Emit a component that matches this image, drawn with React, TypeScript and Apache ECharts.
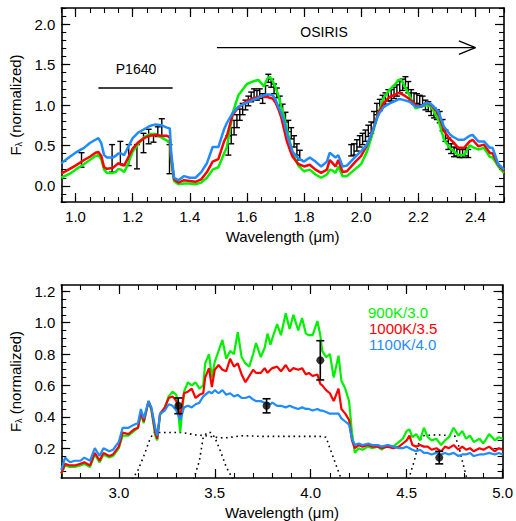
import React, { useEffect, useRef } from 'react';
import * as echarts from 'echarts';

// ---------- Top panel (0.95 - 2.5 micron) ----------
const topWl = [0.95,0.98,1.00,1.03,1.05,1.07,1.08,1.09,1.10,1.11,
  1.13,1.14,1.15,1.16,1.17,1.18,1.20,1.22,1.24,1.26,
  1.28,1.30,1.32,1.33,1.335,1.345,1.36,1.38,1.40,1.42,
  1.44,1.46,1.48,1.50,1.52,1.53,1.55,1.57,1.60,1.62,
  1.64,1.65,1.66,1.67,1.68,1.69,1.70,1.71,1.72,1.73,
  1.74,1.75,1.76,1.78,1.80,1.82,1.84,1.86,1.88,1.89,
  1.90,1.91,1.92,1.935,1.95,1.98,2.00,2.02,2.04,2.06,
  2.08,2.10,2.12,2.13,2.14,2.15,2.17,2.19,2.21,2.23,
  2.245,2.27,2.29,2.31,2.32,2.34,2.36,2.38,2.39,2.41,
  2.43,2.45,2.46,2.48,2.50];
const topGreen = [0.10,0.15,0.20,0.27,0.32,0.37,0.38,0.33,0.20,0.16,
  0.16,0.17,0.21,0.20,0.17,0.24,0.42,0.52,0.60,0.64,
  0.64,0.60,0.56,0.53,0.30,0.06,0.02,0.03,0.03,0.02,
  0.04,0.10,0.20,0.23,0.40,0.48,0.90,1.12,1.26,1.29,
  1.31,1.27,1.23,1.32,1.35,1.30,1.22,1.12,0.98,0.85,
  0.70,0.55,0.40,0.25,0.18,0.20,0.14,0.10,0.14,0.20,
  0.19,0.16,0.24,0.12,0.12,0.21,0.27,0.42,0.65,0.90,
  1.10,1.19,1.26,1.31,1.31,1.25,1.11,0.96,0.98,1.00,
  0.98,0.82,0.57,0.47,0.44,0.38,0.38,0.50,0.48,0.45,
  0.47,0.36,0.35,0.24,0.16];
const topRed = [0.15,0.21,0.25,0.32,0.36,0.41,0.42,0.37,0.23,0.21,
  0.22,0.25,0.28,0.26,0.25,0.32,0.46,0.54,0.59,0.62,
  0.63,0.62,0.62,0.60,0.35,0.08,0.04,0.07,0.06,0.05,
  0.08,0.17,0.30,0.33,0.55,0.62,0.88,0.97,1.05,1.08,
  1.10,1.11,1.10,1.10,1.09,1.08,1.03,0.95,0.85,0.70,
  0.55,0.45,0.36,0.27,0.24,0.26,0.20,0.16,0.20,0.32,
  0.28,0.24,0.32,0.17,0.18,0.30,0.37,0.50,0.68,0.90,
  1.03,1.10,1.13,1.15,1.14,1.12,1.07,1.00,0.98,1.03,
  1.00,0.90,0.68,0.58,0.55,0.47,0.47,0.55,0.57,0.49,
  0.51,0.41,0.40,0.26,0.18];
const topBlue = [0.28,0.36,0.41,0.47,0.53,0.57,0.59,0.53,0.38,0.35,
  0.35,0.37,0.40,0.40,0.38,0.45,0.59,0.66,0.70,0.74,
  0.76,0.75,0.72,0.71,0.40,0.10,0.07,0.12,0.10,0.10,
  0.17,0.28,0.48,0.48,0.70,0.78,0.90,0.98,1.03,1.06,
  1.09,1.11,1.12,1.13,1.13,1.12,1.07,0.98,0.90,0.80,
  0.65,0.53,0.42,0.34,0.30,0.35,0.30,0.24,0.30,0.41,
  0.38,0.35,0.38,0.24,0.25,0.36,0.43,0.51,0.68,0.88,
  0.98,1.02,1.05,1.07,1.07,1.06,1.04,0.98,0.98,1.03,
  1.01,0.92,0.73,0.64,0.61,0.57,0.57,0.62,0.63,0.55,
  0.55,0.47,0.47,0.27,0.20];

// observed spectrum (P1640 + OSIRIS)
const obsWl = [1.021,1.128,1.157,1.186,1.215,1.238,1.256,1.273,1.288,1.302,1.329,
  1.535,1.545,1.555,1.565,1.575,1.585,1.595,1.605,1.615,1.625,1.635,1.645,1.655,1.665,1.675,1.685,1.695,1.705,1.715,1.725,1.735,1.745,1.755,1.765,1.775,1.785,
  1.965,1.975,1.985,1.995,2.005,2.015,2.025,2.035,2.045,2.055,2.065,2.075,2.085,2.095,2.105,2.115,2.125,2.135,2.145,2.155,2.165,2.175,2.185,2.195,2.205,2.215,2.225,2.235,2.245,2.255,2.265,2.275,2.285,2.295,2.305,2.315,2.325,2.335,2.345,2.355,2.365,2.375];
const obsFlux = [0.32,0.34,0.41,0.38,0.36,0.53,0.61,0.59,0.67,0.72,0.33,
  0.50,0.62,0.72,0.80,0.88,0.95,1.00,1.05,1.10,1.14,1.12,1.14,1.08,1.18,1.33,1.27,1.20,1.15,1.05,0.95,0.85,0.74,0.65,0.55,0.45,0.38,
  0.44,0.45,0.50,0.55,0.58,0.62,0.68,0.72,0.85,0.95,1.00,1.05,1.08,1.12,1.12,1.15,1.18,1.22,1.25,1.28,1.22,1.12,1.08,1.08,1.06,1.05,1.00,0.98,0.93,0.90,0.88,0.85,0.75,0.62,0.52,0.46,0.42,0.42,0.40,0.40,0.42,0.40];
const obsErr = [0.09,0.17,0.14,0.13,0.15,0.12,0.09,0.05,0.06,0.11,0.18,
  0.12,0.10,0.09,0.08,0.07,0.07,0.06,0.06,0.06,0.06,0.06,0.06,0.06,0.06,0.05,0.05,0.06,0.06,0.06,0.06,0.06,0.07,0.07,0.07,0.07,0.06,
  0.07,0.07,0.07,0.07,0.07,0.07,0.07,0.07,0.07,0.07,0.07,0.07,0.07,0.07,0.07,0.07,0.07,0.07,0.07,0.07,0.07,0.07,0.07,0.06,0.06,0.06,0.06,0.06,0.06,0.06,0.06,0.07,0.07,0.07,0.07,0.06,0.06,0.05,0.05,0.05,0.05,0.05];

// ---------- Bottom panel (2.7 - 5.0 micron) ----------
const botWl = [2.70,2.72,2.745,2.77,2.80,2.82,2.85,2.875,2.90,2.92,
  2.95,2.97,3.00,3.02,3.05,3.08,3.10,3.115,3.13,3.155,
  3.17,3.19,3.20,3.215,3.24,3.26,3.28,3.30,3.32,3.34,
  3.36,3.38,3.40,3.42,3.44,
  3.45,3.47,3.485,3.50,3.52,3.54,3.56,3.58,3.60,3.62,
  3.64,3.66,3.68,3.70,3.715,3.74,3.76,3.775,3.79,3.80,
  3.825,3.845,3.87,3.89,3.91,3.935,3.955,3.975,3.99,4.01,
  4.035,4.05,4.06,4.08,4.10,4.12,4.145,4.16,4.18,4.20,
  4.215,
  4.23,4.25,4.27,4.30,4.32,4.35,4.37,4.40,4.43,4.46,
  4.48,4.50,4.515,4.53,4.55,4.57,4.59,4.61,4.63,4.655,
  4.68,4.70,4.72,4.745,4.77,4.79,4.81,4.83,4.85,4.88,
  4.90,4.93,4.96,4.98,5.00];
const botGreen = [0.04,0.09,0.08,0.08,0.09,0.10,0.08,0.16,0.11,0.16,
  0.14,0.15,0.20,0.28,0.28,0.31,0.33,0.42,0.36,0.50,
  0.44,0.28,0.25,0.41,0.46,0.53,0.56,0.54,0.30,0.56,
  0.62,0.60,0.62,0.58,0.60,
  0.74,0.80,0.65,0.75,0.82,0.89,0.77,0.82,0.80,0.94,
  0.78,0.74,0.72,0.80,0.87,0.78,0.84,0.93,0.86,0.90,
  0.99,0.92,1.06,0.96,1.05,0.95,1.03,0.93,0.92,0.92,
  1.01,0.92,0.82,0.78,0.80,0.65,0.79,0.63,0.58,0.50,
  0.30,
  0.17,0.20,0.19,0.21,0.20,0.21,0.19,0.22,0.21,0.24,
  0.26,0.31,0.32,0.27,0.29,0.25,0.33,0.27,0.25,0.26,
  0.22,0.25,0.27,0.33,0.28,0.31,0.26,0.28,0.24,0.26,
  0.23,0.29,0.25,0.27,0.26];
const botRed = [0.04,0.10,0.09,0.09,0.10,0.11,0.09,0.17,0.12,0.17,
  0.15,0.16,0.21,0.30,0.29,0.32,0.33,0.43,0.37,0.50,
  0.45,0.30,0.26,0.42,0.46,0.52,0.53,0.50,0.40,0.55,
  0.56,0.58,0.52,0.54,0.55,
  0.65,0.71,0.59,0.70,0.73,0.70,0.69,0.77,0.72,0.74,
  0.67,0.62,0.66,0.70,0.68,0.68,0.71,0.68,0.70,0.71,
  0.72,0.69,0.73,0.69,0.71,0.70,0.71,0.67,0.68,0.66,
  0.67,0.61,0.60,0.57,0.55,0.50,0.58,0.45,0.42,0.38,
  0.25,
  0.20,0.22,0.21,0.22,0.21,0.21,0.20,0.21,0.20,0.21,
  0.23,0.25,0.28,0.22,0.21,0.22,0.21,0.21,0.19,0.20,
  0.18,0.21,0.20,0.22,0.19,0.21,0.19,0.20,0.18,0.20,
  0.19,0.21,0.18,0.20,0.19];
const botBlue = [0.06,0.14,0.11,0.12,0.12,0.14,0.12,0.20,0.15,0.20,
  0.18,0.19,0.24,0.33,0.33,0.35,0.36,0.45,0.39,0.50,
  0.46,0.33,0.28,0.42,0.44,0.48,0.47,0.44,0.38,0.46,
  0.47,0.46,0.48,0.49,0.53,
  0.54,0.56,0.55,0.57,0.55,0.57,0.54,0.55,0.53,0.54,
  0.52,0.52,0.53,0.51,0.50,0.50,0.49,0.49,0.48,0.49,
  0.47,0.47,0.46,0.47,0.46,0.45,0.46,0.45,0.45,0.44,
  0.45,0.44,0.44,0.43,0.42,0.42,0.42,0.39,0.37,0.35,
  0.26,
  0.22,0.23,0.22,0.23,0.22,0.22,0.21,0.22,0.21,0.20,
  0.20,0.21,0.20,0.19,0.18,0.19,0.17,0.17,0.16,0.17,
  0.16,0.17,0.16,0.17,0.15,0.16,0.16,0.17,0.15,0.16,
  0.16,0.17,0.16,0.17,0.16];

// photometry
const photWl = [3.31, 3.77, 4.05, 4.67];
const photFlux = [0.47, 0.47, 0.76, 0.14];
const photErr = [0.05, 0.045, 0.125, 0.04];

// filter transmission curves (dotted)
const filterLWl = [3.07,3.10,3.13,3.16,3.18,3.25,3.33,3.40,3.45,3.50,3.55,3.65,3.75,3.85,3.95,4.05,4.08,4.10,4.13,4.16];
const filterLT = [0.0,0.06,0.15,0.25,0.30,0.30,0.30,0.285,0.28,0.27,0.265,0.28,0.275,0.275,0.275,0.275,0.27,0.20,0.10,0.0];
const filterNWl = [3.39,3.42,3.44,3.46,3.48,3.50,3.53,3.56,3.595];
const filterNT = [0.0,0.12,0.27,0.30,0.30,0.27,0.18,0.08,0.0];
const filterMWl = [4.51,4.54,4.565,4.585,4.65,4.75,4.77,4.79,4.815];
const filterMT = [0.0,0.12,0.24,0.28,0.285,0.28,0.22,0.12,0.0];

// tick labels
const topXTicks = [1.0, 1.2, 1.4, 1.6, 1.8, 2.0, 2.2, 2.4];
const topYTicks = [0.0, 0.5, 1.0, 1.5, 2.0];
const botXTicks = [3.0, 3.5, 4.0, 4.5, 5.0];
const botYTicks = [0.2, 0.4, 0.6, 0.8, 1.0, 1.2];

const legendNames = ['900K/3.0', '1000K/3.5', '1100K/4.0'];
const GREEN = '#00f000';
const RED = '#ff0000';
const BLUE = '#1e8cff';
const FONT = '"Liberation Sans", Arial, sans-serif';

function range(a: number, b: number, step: number): number[] {
  const out: number[] = [];
  const n = Math.round((b - a) / step);
  for (let i = 0; i <= n; i++) out.push(Math.round((a + i * step) * 1000) / 1000);
  return out;
}

function pairs(xs: number[], ys: number[]) {
  return xs.map((x, i) => [x, ys[i]]);
}

function makeAxes(dim: 'x' | 'y', gridIndex: number, min: number, max: number,
  majors: number[], minors: number[], name: any, nameGap: number, nameRich?: any) {
  const posA = dim === 'x' ? 'bottom' : 'left';
  const posB = dim === 'x' ? 'top' : 'right';
  const base = {
    type: 'value', gridIndex, min, max, scale: false,
    splitLine: { show: false },
  };
  const line = { show: true, onZero: false, lineStyle: { color: '#000', width: 1.6 } };
  const major = (pos: string, withLabel: boolean) => ({
    ...base,
    position: pos,
    axisLine: line,
    axisTick: { show: true, inside: true, length: 9, customValues: majors, lineStyle: { color: '#000', width: 1.2 } },
    axisLabel: withLabel ? {
      show: true, customValues: majors, color: '#000', fontSize: 15, fontFamily: FONT,
      margin: dim === 'x' ? 7 : 6,
      formatter: (v: number) => v.toFixed(1),
    } : { show: false },
    ...(withLabel ? {
      name, nameLocation: 'middle', nameGap,
      nameRotate: dim === 'y' ? 90 : 0,
      nameTextStyle: { color: '#000', fontSize: 15, fontFamily: FONT, rich: nameRich },
    } : {}),
  });
  const minor = (pos: string) => ({
    ...base,
    position: pos,
    axisLine: { show: false, onZero: false },
    axisTick: { show: true, inside: true, length: 5, customValues: minors, lineStyle: { color: '#000', width: 1.1 } },
    axisLabel: { show: false },
  });
  return [major(posA, true), minor(posA), major(posB, false), minor(posB)];
}

function errorBarSeries(xAxisIndex: number, yAxisIndex: number, xs: number[], ys: number[], es: number[], half: number, lw: number) {
  return {
    type: 'custom', xAxisIndex, yAxisIndex, silent: true,
    data: xs.map((x, i) => [x, ys[i], es[i]]),
    encode: { x: 0, y: 1 },
    renderItem: (params: any, api: any) => {
      const x = api.value(0), y = api.value(1), e = api.value(2);
      const t = api.coord([x, y + e]);
      const b = api.coord([x, y - e]);
      const st = { stroke: '#000', lineWidth: lw };
      return {
        type: 'group',
        children: [
          { type: 'line', shape: { x1: t[0], y1: t[1], x2: b[0], y2: b[1] }, style: st },
          { type: 'line', shape: { x1: t[0] - half, y1: t[1], x2: t[0] + half, y2: t[1] }, style: st },
          { type: 'line', shape: { x1: b[0] - half, y1: b[1], x2: b[0] + half, y2: b[1] }, style: st },
        ],
      };
    },
  };
}

function lineSeries(xAxisIndex: number, yAxisIndex: number, data: number[][], color: string, width: number, type: any = 'solid') {
  return {
    type: 'line', xAxisIndex, yAxisIndex, data, showSymbol: false, symbol: 'none',
    silent: true, lineStyle: { color, width, type }, clip: true, z: 3,
  };
}

export default function App() {
  const ref = useRef<HTMLDivElement>(null);
  useEffect(() => {
    if (!ref.current) return;
    const chart = echarts.init(ref.current, undefined, { renderer: 'svg' });
    const yName = '{f|F}{s|λ}{n| (normalized)}';
    const yRich = {
      f: { fontSize: 15, fontFamily: FONT, color: '#000' },
      s: { fontSize: 9, fontFamily: FONT, color: '#000', verticalAlign: 'bottom', padding: [7, 0, 0, 0] },
      n: { fontSize: 15, fontFamily: FONT, color: '#000' },
    };
    const xAxes = [
      ...makeAxes('x', 0, 0.95, 2.5, topXTicks, range(0.95, 2.5, 0.05), 'Wavelength (μm)', 27),
      ...makeAxes('x', 1, 2.7, 5.0, botXTicks, range(2.7, 5.0, 0.1), 'Wavelength (μm)', 27),
    ];
    const yAxes = [
      ...makeAxes('y', 0, -0.2, 2.2, topYTicks, range(-0.2, 2.2, 0.1), yName, 35, yRich),
      ...makeAxes('y', 1, 0.01, 1.24, botYTicks, range(0.05, 1.2, 0.05), yName, 35, yRich),
    ];
    const option: any = {
      animation: false,
      grid: [
        { left: 58, right: 12, top: 8, height: 194 },
        { left: 58, right: 12, top: 285, height: 193 },
      ],
      xAxis: xAxes,
      yAxis: yAxes,
      series: [
        errorBarSeries(0, 0, obsWl, obsFlux, obsErr, 3, 1.4),
        lineSeries(0, 0, pairs(topWl, topGreen), GREEN, 2.5),
        lineSeries(0, 0, pairs(topWl, topRed), RED, 2.5),
        lineSeries(0, 0, pairs(topWl, topBlue), BLUE, 2.5),
        // annotations
        lineSeries(0, 0, [[1.08, 1.21], [1.34, 1.21]], '#000', 1.5),
        lineSeries(0, 0, [[1.495, 1.71], [2.40, 1.71]], '#000', 1.3),
        lineSeries(0, 0, [[2.342, 1.793], [2.40, 1.71], [2.342, 1.627]], '#000', 1.3),
        // bottom
        lineSeries(4, 4, pairs(filterLWl, filterLT), '#000', 1.6, [1.6, 3.6]),
        lineSeries(4, 4, pairs(filterNWl, filterNT), '#000', 1.6, [1.6, 3.6]),
        lineSeries(4, 4, pairs(filterMWl, filterMT), '#000', 1.6, [1.6, 3.6]),
        lineSeries(4, 4, pairs(botWl, botGreen), GREEN, 2.2),
        lineSeries(4, 4, pairs(botWl, botRed), RED, 2.2),
        lineSeries(4, 4, pairs(botWl, botBlue), BLUE, 2.2),
        { ...errorBarSeries(4, 4, photWl, photFlux, photErr, 4, 1.6), z: 5 },
        {
          type: 'scatter', xAxisIndex: 4, yAxisIndex: 4, silent: true, z: 6,
          data: pairs(photWl, photFlux), symbol: 'circle', symbolSize: 8,
          itemStyle: { color: '#000' },
        },
      ],
      graphic: [
        { type: 'text', x: 136, y: 69, silent: true, style: { text: 'P1640', fill: '#000', font: `14px ${FONT}`, align: 'center', verticalAlign: 'middle' } },
        { type: 'text', x: 324, y: 32, silent: true, style: { text: 'OSIRIS', fill: '#000', font: `14px ${FONT}`, align: 'center', verticalAlign: 'middle' } },
        { type: 'text', x: 368, y: 312, silent: true, style: { text: legendNames[0], fill: GREEN, font: `15px ${FONT}`, align: 'left', verticalAlign: 'middle' } },
        { type: 'text', x: 369, y: 328, silent: true, style: { text: legendNames[1], fill: RED, font: `15px ${FONT}`, align: 'left', verticalAlign: 'middle' } },
        { type: 'text', x: 369, y: 344, silent: true, style: { text: legendNames[2], fill: BLUE, font: `15px ${FONT}`, align: 'left', verticalAlign: 'middle' } },
      ],
    };
    chart.setOption(option);
    return () => chart.dispose();
  }, []);
  return <div ref={ref} style={{ position: 'absolute', left: 0, top: 0, width: 516, height: 521, background: '#fff' }} />;
}
